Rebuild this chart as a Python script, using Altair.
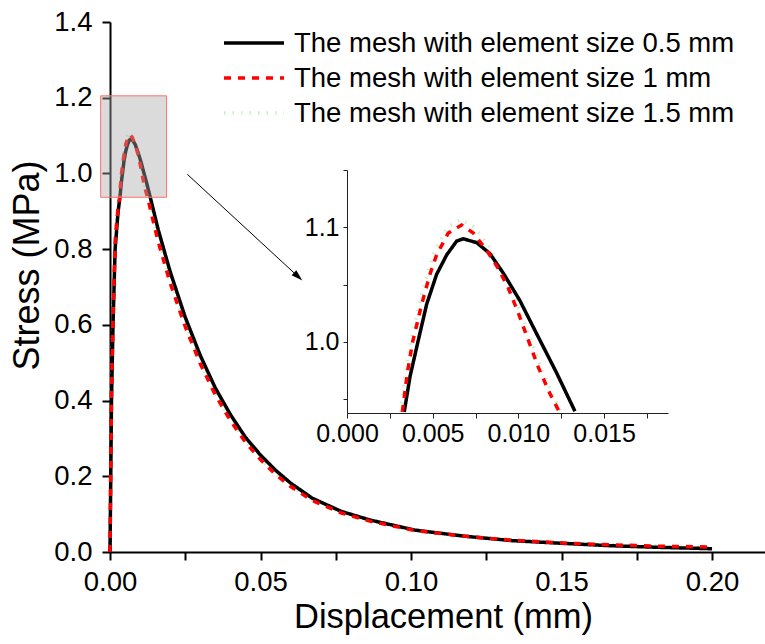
import altair as alt
import pandas as pd

FONT = "Liberation Sans"

names = [
    "The mesh with element size 0.5 mm",
    "The mesh with element size 1 mm",
    "The mesh with element size 1.5 mm",
]
line_colors = ["#000000", "#ff0000", "#c6f0c6"]
line_dashes = [[1, 0], [7, 7], [1.5, 7]]

# element size 0.5 mm (black, solid)
x_05 = [0, 0.0005, 0.001, 0.0017, 0.0022, 0.0027, 0.00334, 0.00368, 0.00416, 0.00465,
        0.00523, 0.00582, 0.0064, 0.00679, 0.00757, 0.00834, 0.00912, 0.01009, 0.01107,
        0.01223, 0.0133, 0.016, 0.02, 0.025, 0.03, 0.035, 0.04, 0.045, 0.05, 0.055, 0.06,
        0.0672, 0.0769, 0.0866, 0.1012, 0.1174, 0.1336, 0.15, 0.166, 0.182, 0.2]
y_05 = [0, 0.40, 0.60, 0.80, 0.85, 0.90, 0.939, 0.970, 1.0015, 1.033,
        1.059, 1.076, 1.088, 1.090, 1.0866, 1.077, 1.060, 1.036, 1.007,
        0.973, 0.9395, 0.852, 0.740, 0.620, 0.519, 0.433, 0.363, 0.303, 0.256, 0.216, 0.182,
        0.142, 0.107, 0.084, 0.058, 0.042, 0.030, 0.023, 0.0167, 0.0124, 0.0087]

# element size 1 mm (red, dashed)
x_10 = [0, 0.0005, 0.001, 0.0017, 0.0022, 0.0027, 0.00323, 0.00352, 0.00383, 0.00436,
        0.00484, 0.00523, 0.00591, 0.00669, 0.00737, 0.00815, 0.00883, 0.00941, 0.00999,
        0.01058, 0.01116, 0.01184, 0.01239, 0.016, 0.02, 0.025, 0.03, 0.035, 0.04, 0.045,
        0.05, 0.055, 0.06, 0.0672, 0.0769, 0.0866, 0.1012, 0.1174, 0.1336, 0.15, 0.166,
        0.182, 0.2]
y_10 = [0, 0.42, 0.62, 0.82, 0.87, 0.91, 0.939, 0.973, 1.0, 1.033,
        1.059, 1.076, 1.095, 1.102, 1.095, 1.080, 1.064, 1.047, 1.0255,
        1.0015, 0.978, 0.955, 0.939, 0.82, 0.71, 0.595, 0.497, 0.415, 0.347, 0.29,
        0.244, 0.205, 0.173, 0.136, 0.103, 0.081, 0.057, 0.042, 0.031, 0.024, 0.019,
        0.0155, 0.013]

# element size 1.5 mm (pale green, dotted)
x_15 = [0, 0.0005, 0.001, 0.0017, 0.0022, 0.0027, 0.00312, 0.00341, 0.00372, 0.00425,
        0.00473, 0.00513, 0.00585, 0.00665, 0.00742, 0.00822, 0.0089, 0.0095, 0.01008,
        0.01067, 0.01126, 0.01194, 0.01249, 0.016, 0.02, 0.025, 0.03, 0.035, 0.04, 0.045,
        0.05, 0.055, 0.06, 0.0672, 0.0769, 0.0866, 0.1012, 0.1174, 0.1336, 0.15, 0.166,
        0.182, 0.2]
y_15 = [0, 0.43, 0.63, 0.83, 0.88, 0.92, 0.939, 0.973, 1.0, 1.035,
        1.062, 1.08, 1.1, 1.107, 1.1, 1.085, 1.067, 1.049, 1.028,
        1.004, 0.98, 0.956, 0.939, 0.825, 0.715, 0.6, 0.5, 0.418, 0.35, 0.292,
        0.246, 0.207, 0.175, 0.138, 0.105, 0.082, 0.058, 0.043, 0.032, 0.025, 0.0195,
        0.016, 0.0135]

# zoom box and arrow (main-plot data coordinates)
box_x, box_x2 = [-0.0031], [0.0188]
box_y, box_y2 = [0.937], [1.205]
arrow_x, arrow_y = [0.02568], [0.9977]
arrow_x2, arrow_y2 = [0.0625], [0.7274]

x_ticks_main = [0, 0.025, 0.05, 0.075, 0.1, 0.125, 0.15, 0.175, 0.2]
y_ticks_main = [0, 0.1, 0.2, 0.3, 0.4, 0.5, 0.6, 0.7, 0.8, 0.9, 1.0, 1.1, 1.2, 1.3, 1.4]
x_ticks_inset = [0, 0.0025, 0.005, 0.0075, 0.01, 0.0125, 0.015, 0.0175]
y_ticks_inset = [0.95, 1.0, 1.05, 1.1, 1.15]

rows = []
for name, xs, ys in [(names[2], x_15, y_15), (names[0], x_05, y_05), (names[1], x_10, y_10)]:
    for a, b in zip(xs, ys):
        rows.append({"series": name, "x": a, "y": b})
df = pd.DataFrame(rows)

box_df = pd.DataFrame({"bx": box_x, "bx2": box_x2, "by": box_y, "by2": box_y2})
arrow_df = pd.DataFrame({"ax": arrow_x, "ay": arrow_y, "ax2": arrow_x2, "ay2": arrow_y2})
legend_df = pd.DataFrame({"series": names})

W, H = 655, 530

color_scale = alt.Scale(domain=names, range=line_colors)
dash_scale = alt.Scale(domain=names, range=line_dashes)

main_x_scale = alt.Scale(domain=[0, 0.2176], nice=False, zero=False)
main_y_scale = alt.Scale(domain=[0, 1.4], nice=False, zero=False)

main_x_axis = alt.Axis(
    values=x_ticks_main,
    labelExpr="abs(datum.value*20 - round(datum.value*20)) < 1e-6 ? format(datum.value, '.2f') : ''",
    title="Displacement (mm)", titleFont=FONT, titleFontSize=34.5, titleFontWeight="normal",
    titleColor="black", titleX=333, titleY=75, titleBaseline="alphabetic", titleAlign="center",
    labelFont=FONT, labelFontSize=27.5, labelColor="black", labelPadding=8, labelFlush=False,
    labelOverlap=False, tickSize=8, tickWidth=2, tickColor="black",
    domainWidth=2, domainColor="black", grid=False,
)
main_y_axis = alt.Axis(
    values=y_ticks_main,
    labelExpr="abs(datum.value*5 - round(datum.value*5)) < 1e-6 ? format(datum.value, '.1f') : ''",
    title="Stress (MPa)", titleFont=FONT, titleFontSize=36, titleFontWeight="normal",
    titleColor="black", titleX=-83, titleY=243, titleAngle=270, titleBaseline="middle",
    titleAlign="center",
    labelFont=FONT, labelFontSize=27.5, labelColor="black", labelPadding=10,
    labelOverlap=False, tickSize=8, tickWidth=2, tickColor="black",
    domainWidth=2, domainColor="black", grid=False,
)

main_lines = alt.Chart(df).mark_line(strokeWidth=3.5).encode(
    x=alt.X("x:Q", scale=main_x_scale, axis=main_x_axis),
    y=alt.Y("y:Q", scale=main_y_scale, axis=main_y_axis),
    color=alt.Color("series:N", scale=color_scale, legend=None),
    strokeDash=alt.StrokeDash("series:N", scale=dash_scale, legend=None),
    order=alt.Order("x:Q"),
)

box = alt.Chart(box_df).mark_rect(
    fill="#a9a9a9", fillOpacity=0.42, stroke="#ff7070", strokeWidth=1
).encode(x="bx:Q", x2="bx2", y="by:Q", y2="by2")

arrow_line = alt.Chart(arrow_df).mark_rule(color="black", strokeWidth=1).encode(
    x="ax:Q", y="ay:Q", x2="ax2", y2="ay2"
)
arrow_head = alt.Chart(arrow_df).mark_point(
    shape="M -1 -0.6 L 1 0 L -1 0.6 Z", filled=True, size=130, angle=43,
    color="black", opacity=1
).encode(x="ax2:Q", y="ay2:Q")

main = alt.layer(main_lines, box, arrow_line, arrow_head)

inset_x_axis = alt.Axis(
    orient="bottom", offset=-139, values=x_ticks_inset,
    labelExpr="abs(datum.value*200 - round(datum.value*200)) < 1e-6 ? format(datum.value, '.3f') : ''",
    title=None, labelFont=FONT, labelFontSize=25, labelColor="black", labelPadding=3,
    labelFlush=False, labelOverlap=False, tickSize=5, tickWidth=1, tickColor="#222222",
    domainWidth=1, domainColor="#222222", grid=False,
)
inset_y_axis = alt.Axis(
    orient="left", offset=-237, values=y_ticks_inset,
    labelExpr="abs(datum.value*10 - round(datum.value*10)) < 1e-6 ? format(datum.value, '.1f') : ''",
    title=None, labelFont=FONT, labelFontSize=25, labelColor="black", labelPadding=4,
    labelOverlap=False, tickSize=4, tickWidth=1, tickColor="#222222",
    domainWidth=1, domainColor="#222222", grid=False,
)

inset = alt.Chart(df).transform_filter(
    "datum.y >= 0.938 && datum.x <= 0.0187"
).mark_line(strokeWidth=3.5).encode(
    x=alt.X("x:Q", scale=alt.Scale(domain=[0, 0.01873], range=[237, 558], nice=False, zero=False),
            axis=inset_x_axis),
    y=alt.Y("y:Q", scale=alt.Scale(domain=[0.938, 1.15], range=[391, 148], nice=False, zero=False),
            axis=inset_y_axis),
    color=alt.Color("series:N", scale=color_scale, legend=None),
    strokeDash=alt.StrokeDash("series:N", scale=dash_scale, legend=None),
    order=alt.Order("x:Q"),
)

# legend drawn as its own layer (series name -> row position)
leg_y = alt.Y("series:N", scale=alt.Scale(type="point", domain=names, range=[21, 91], padding=0),
              axis=None)
legend_lines = alt.Chart(legend_df).mark_rule(strokeWidth=3.5).encode(
    x=alt.value(114), x2=alt.value(174), y=leg_y,
    color=alt.Color("series:N", scale=color_scale, legend=None),
    strokeDash=alt.StrokeDash("series:N", scale=dash_scale, legend=None),
)
legend_text = alt.Chart(legend_df).mark_text(
    align="left", baseline="middle", font=FONT, fontSize=27.5, color="black", dy=1
).encode(x=alt.value(184), y=leg_y, text="series:N")
legend_layer = alt.layer(legend_lines, legend_text)

chart = alt.layer(main, inset, legend_layer).resolve_scale(
    x="independent", y="independent"
).properties(
    width=W, height=H,
    padding={"left": 110, "top": 22, "right": 0, "bottom": 92},
    autosize=alt.AutoSizeParams(type="none"),
    background="white",
).configure_view(stroke=None)

chart.save("out.html", embed_options={"renderer": "svg", "actions": False})
